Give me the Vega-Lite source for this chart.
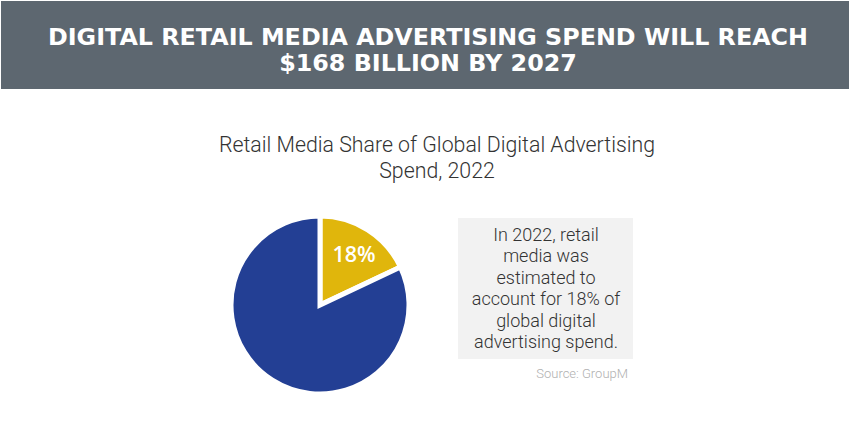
{
  "$schema": "https://vega.github.io/schema/vega-lite/v6.json",
  "width": 849,
  "height": 433,
  "padding": 0,
  "autosize": {"type": "fit", "contains": "padding"},
  "background": "#ffffff",
  "config": {"view": {"stroke": null}},
  "layer": [
    {
      "data": {"values": [{}]},
      "mark": {"type": "rect", "x": 0, "x2": 849, "y": 0, "y2": 88, "color": "#5d6770"},
      "encoding": {}
    },
    {
      "data": {"values": [{}]},
      "mark": {"type": "text", "x": 427, "y": 37, "text": "DIGITAL RETAIL MEDIA ADVERTISING SPEND WILL REACH", "font": "DejaVu Sans", "fontWeight": "bold", "fontSize": 23.8, "color": "#ffffff", "align": "center", "baseline": "middle"},
      "encoding": {}
    },
    {
      "data": {"values": [{}]},
      "mark": {"type": "text", "x": 427, "y": 63, "text": "$168 BILLION BY 2027", "font": "DejaVu Sans", "fontWeight": "bold", "fontSize": 23.8, "color": "#ffffff", "align": "center", "baseline": "middle"},
      "encoding": {}
    },
    {
      "data": {"values": [{}]},
      "mark": {"type": "text", "x": 436, "y": 145, "text": ["Retail Media Share of Global Digital Advertising", "Spend, 2022"], "lineHeight": 26, "font": "Roboto", "fontWeight": 300, "fontSize": 21.3, "color": "#333333", "align": "center", "baseline": "middle"},
      "encoding": {}
    },
    {
      "data": {"values": [
        {"segment": "Retail media", "share": 18, "k": 1},
        {"segment": "Other digital advertising", "share": 82, "k": 2}
      ]},
      "mark": {"type": "arc", "x": 319, "y": 304, "outerRadius": 89, "stroke": "#ffffff", "strokeWidth": 5},
      "encoding": {
        "theta": {"field": "share", "type": "quantitative", "stack": true},
        "order": {"field": "k", "type": "quantitative"},
        "color": {"field": "segment", "type": "nominal", "legend": null,
          "scale": {"domain": ["Retail media", "Other digital advertising"], "range": ["#e0b60c", "#233f94"]}}
      }
    },
    {
      "data": {"values": [{}]},
      "mark": {"type": "text", "x": 353, "y": 255, "text": "18%", "font": "Open Sans", "fontWeight": 600, "fontSize": 21.5, "color": "#ffffff", "align": "center", "baseline": "middle"},
      "encoding": {}
    },
    {
      "data": {"values": [{}]},
      "mark": {"type": "rect", "x": 457, "x2": 632, "y": 217, "y2": 358, "color": "#f2f2f2"},
      "encoding": {}
    },
    {
      "data": {"values": [{}]},
      "mark": {"type": "text", "x": 545, "y": 235, "text": ["In 2022, retail", "media was", "estimated to", "account for 18% of", "global digital", "advertising spend."], "lineHeight": 21.4, "font": "Roboto", "fontWeight": 300, "fontSize": 18, "color": "#333333", "align": "center", "baseline": "middle"},
      "encoding": {}
    },
    {
      "data": {"values": [{}]},
      "mark": {"type": "text", "x": 627, "y": 373, "text": "Source: GroupM", "font": "Roboto", "fontWeight": 300, "fontSize": 13, "color": "#b0b0b0", "align": "right", "baseline": "middle"},
      "encoding": {}
    },
    {
      "data": {"values": [{}]},
      "mark": {"type": "rule", "x": 581, "x2": 626, "y": 379.5, "color": "#b0b0b0", "strokeWidth": 1},
      "encoding": {}
    }
  ]
}
